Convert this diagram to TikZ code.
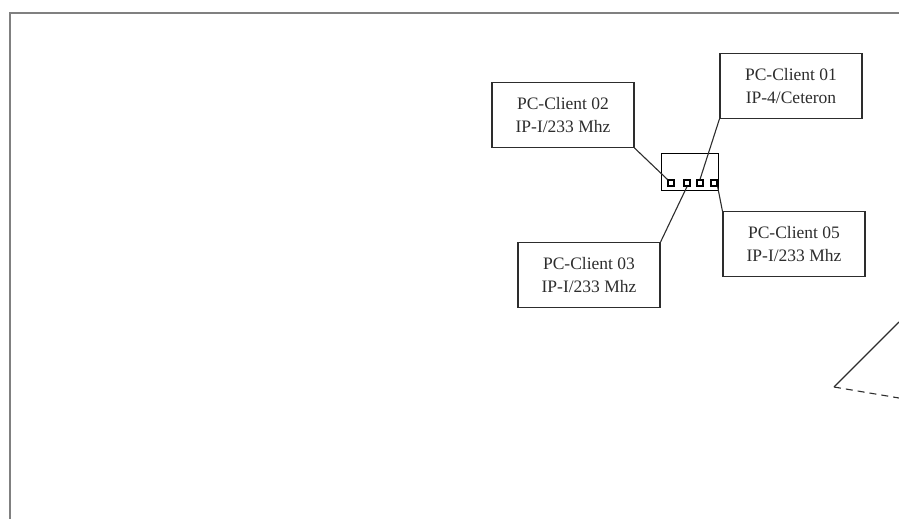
\documentclass[tikz,border=0pt]{standalone}
\usepackage{fontspec}
\setmainfont{Liberation Serif}
\usetikzlibrary{positioning}
\definecolor{frame}{RGB}{128,128,128}
\definecolor{ink}{RGB}{45,45,45}
\tikzset{
  client/.style={draw=ink, line width=1.2pt, fill=white, align=center, minimum width=142pt, minimum height=65pt, inner sep=0pt, font=\fontsize{17.5}{23}\selectfont, text=ink},
  hub/.style={draw=black, line width=1.2pt, minimum width=57pt, minimum height=37pt, inner sep=0pt},
  port/.style={draw=black, line width=1.2pt, minimum size=6pt, inner sep=0pt},
  link/.style={draw=ink, line width=1.1pt},
  border/.style={draw=frame, line width=2.5pt}
}
\begin{document}
\begin{tikzpicture}[x=1pt,y=-1pt]
\useasboundingbox (0,0) rectangle (899,519);
% outer frame
\draw[border] (10,519) -- (10,13) -- (899,13);
% clients
\node[client] (client02) at (563,115) {PC-Client 02\\IP-I/233 Mhz};
\node[client] (client01) at (791,86) {PC-Client 01\\IP-4/Ceteron};
\node[client] (client03) at (589,275) {PC-Client 03\\IP-I/233 Mhz};
\node[client] (client05) at (794,244) {PC-Client 05\\IP-I/233 Mhz};
% hub and ports
\node[hub] (hub) at (690,172) {};
\node[port] (port1) at (671,183) {};
\node[port] (port2) at (687,183) {};
\node[port] (port3) at (700,183) {};
\node[port] (port4) at (714,183) {};
\draw[link] (client02.south east) -- (port1.north west);
\draw[link] (client01.south west) -- (port3.north);
\draw[link] (client03.north east) -- (port2.south);
\draw[link] (client05.north west) -- (port4.south east);
% lines leaving the picture
\coordinate (corner) at (834,387);
\coordinate (outA) at (899,322);
\coordinate (outB) at (899,398);
\draw[link] (corner) -- (outA);
\draw[link, dash pattern=on 7pt off 5pt] (corner) -- (outB);
\end{tikzpicture}
\end{document}
